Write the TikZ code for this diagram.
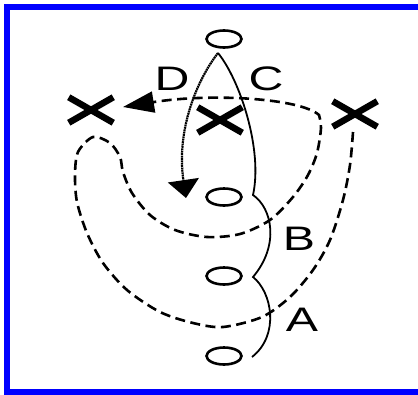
\documentclass[tikz,border=0pt]{standalone}
\usepackage{fontspec}
\setmainfont{Liberation Sans}
\usepackage{tikz}
\usetikzlibrary{shapes.geometric,shapes.misc,arrows.meta}
\definecolor{frameblue}{RGB}{0,0,255}

\begin{document}
\begin{tikzpicture}[x=1pt,y=-1pt,
    spot/.style={ellipse,draw,line width=2.6pt,minimum width=35pt,minimum height=17pt,inner sep=0pt},
    player/.style={cross out,draw,line width=6.5pt,minimum width=38pt,minimum height=19pt,inner sep=0pt},
    lab/.style={font=\fontsize{34}{34}\selectfont,xscale=1.42,transform shape,inner sep=0pt},
    pass/.style={line width=2.6pt,dash pattern=on 10pt off 5.5pt},
    run/.style={line width=1.8pt},
    cut/.style={line width=2.2pt,dash pattern=on 1.8pt off 0.6pt}]
    \useasboundingbox (0,0) rectangle (418,394);
    \clip (0,0) rectangle (418,394);

    % Frame
    \draw[frameblue,line width=6pt] (7,6.5) rectangle (420.5,391.5);

    % Cones
    \node[spot] (o1) at (224,39) {};
    \node[spot] (o2) at (224,197) {};
    \node[spot] (o3) at (224,276) {};
    \node[spot] (o4) at (224,356) {};

    % Players
    \node[player] (x1) at (91,110) {};
    \node[player] (x2) at (220,120) {};
    \node[player] (x3) at (355,114) {};

    % Labels
    \node[lab] (labD) at (172,79) {D};
    \node[lab] (labC) at (266,79) {C};
    \node[lab] (labB) at (299,239) {B};
    \node[lab] (labA) at (302,320) {A};

    % Free ends
    \coordinate (apex) at (218,53);
    \coordinate (runEnd) at (252,357);
    \coordinate (cutEnd) at (186,198);
    \coordinate (passStart) at (353,132);
    \coordinate (passEnd) at (123,107);

    % Run C (dribble back through the cones)
    \draw[run] (apex) .. controls (240,80) and (263,150) .. (253,195)
        .. controls (272,208) and (280,245) .. (253,277)
        .. controls (272,292) and (280,335) .. (runEnd);

    % Run D
    \draw[cut,-{Triangle[length=18pt,width=31pt]}] (apex) .. controls (197,80) and (176,130) .. (cutEnd);

    % Pass route
    \draw[pass,-{Triangle[length=31pt,width=21pt]}] plot[smooth] coordinates {(passStart) (350,165) (343,200) (330,240) (313,270) (290,297) (262,317) (223,327) (193,323) (160,312) (127,290) (103,263) (87,233) (77,202) (75,175) (78,152) (93,137) (110,143) (120,157) (123,172) (132,193) (150,215) (175,230) (207,237) (240,234) (270,220) (293,197) (308,175) (317,153) (321,128) (319,115)}
        .. controls (300,98) and (210,93) .. (passEnd);
\end{tikzpicture}
\end{document}
